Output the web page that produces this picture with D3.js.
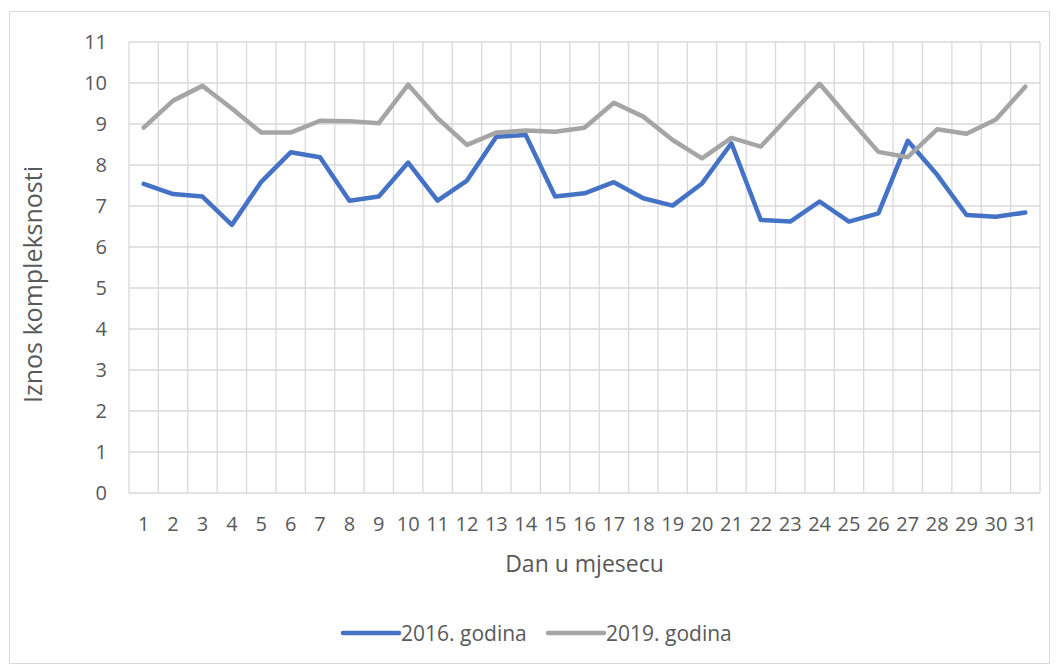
<!DOCTYPE html>
<html><head><meta charset="utf-8">
<script src="https://cdn.jsdelivr.net/npm/d3@7"></script>
<style>body{margin:0;background:#fff;} svg{display:block;} text{font-family:"Open Sans",Lato,sans-serif;fill:#595959;}</style>
</head><body>
<script>
const days = d3.range(1, 32).map(String);
const series2016 = [7.54,7.29,7.23,6.54,7.59,8.31,8.19,7.13,7.23,8.06,7.13,7.62,8.69,8.73,7.23,7.31,7.58,7.19,7.01,7.55,8.53,6.66,6.62,7.11,6.62,6.82,8.59,7.76,6.78,6.74,6.84];
const series2019 = [8.91,9.57,9.93,9.38,8.79,8.79,9.08,9.07,9.02,9.96,9.14,8.49,8.79,8.84,8.81,8.91,9.52,9.18,8.61,8.16,8.66,8.45,9.22,9.98,9.14,8.32,8.19,8.87,8.76,9.11,9.91];
const yTicks = d3.range(0, 12);
const seriesNames = ["2016. godina", "2019. godina"];
const colors = ["#4472C4", "#A5A5A5"];

const W = 1057, H = 666;
const svg = d3.select("body").append("svg").attr("width", W).attr("height", H);
svg.append("rect").attr("x", 9.5).attr("y", 11.5).attr("width", 1040).attr("height", 652)
  .attr("fill", "#fff").attr("stroke", "#D9D9D9");

const L = 129, R = 1040, T = 42, B = 493;
const x = d3.scaleBand().domain(days).range([L, R]);
const y = d3.scaleLinear().domain([0, 11]).range([B, T]);

// horizontal gridlines
svg.append("g").selectAll("line").data(yTicks).join("line")
  .attr("x1", L).attr("x2", R).attr("y1", d => y(d)).attr("y2", d => y(d))
  .attr("stroke", "#D9D9D9").attr("stroke-width", 1.3);
// vertical gridlines at band boundaries
const bounds = days.map(d => x(d)).concat([R]);
svg.append("g").selectAll("line").data(bounds).join("line")
  .attr("x1", d => d).attr("x2", d => d).attr("y1", T).attr("y2", B)
  .attr("stroke", "#D9D9D9").attr("stroke-width", 1.3);

// y tick labels
svg.append("g").selectAll("text").data(yTicks).join("text")
  .attr("x", 107).attr("y", d => y(d)).attr("dy", "0.36em").attr("text-anchor", "end")
  .attr("font-size", 20).text(d => d);
// x tick labels
svg.append("g").selectAll("text").data(days).join("text")
  .attr("x", d => x(d) + x.bandwidth() / 2).attr("y", 524).attr("dy", "0.36em").attr("text-anchor", "middle")
  .attr("font-size", 20).text(d => d);

// axis titles
svg.append("text").attr("x", (L + R) / 2).attr("y", 564).attr("dy", "0.36em").attr("text-anchor", "middle")
  .attr("font-size", 23).text("Dan u mjesecu");
svg.append("text").attr("transform", `translate(33,${(T + B) / 2 + 17}) rotate(-90)`).attr("dy", "0.36em")
  .attr("text-anchor", "middle").attr("font-size", 25).text("Iznos kompleksnosti");

// lines
const line = d3.line().x((d, i) => x(days[i]) + x.bandwidth() / 2).y(d => y(d));
[series2016, series2019].forEach((s, k) => {
  svg.append("path").datum(s).attr("d", line).attr("fill", "none")
    .attr("stroke", colors[k]).attr("stroke-width", 4.5).attr("stroke-linejoin", "round").attr("stroke-linecap", "round");
});
// legend
const legendX = [343, 548];
seriesNames.forEach((n, k) => {
  svg.append("line").attr("x1", legendX[k]).attr("x2", legendX[k] + 56).attr("y1", 633).attr("y2", 633)
    .attr("stroke", colors[k]).attr("stroke-width", 4.5).attr("stroke-linecap", "round");
  svg.append("text").attr("x", legendX[k] + 58).attr("y", 633).attr("dy", "0.36em").attr("font-size", 21).text(n);
});
</script>
</body></html>
